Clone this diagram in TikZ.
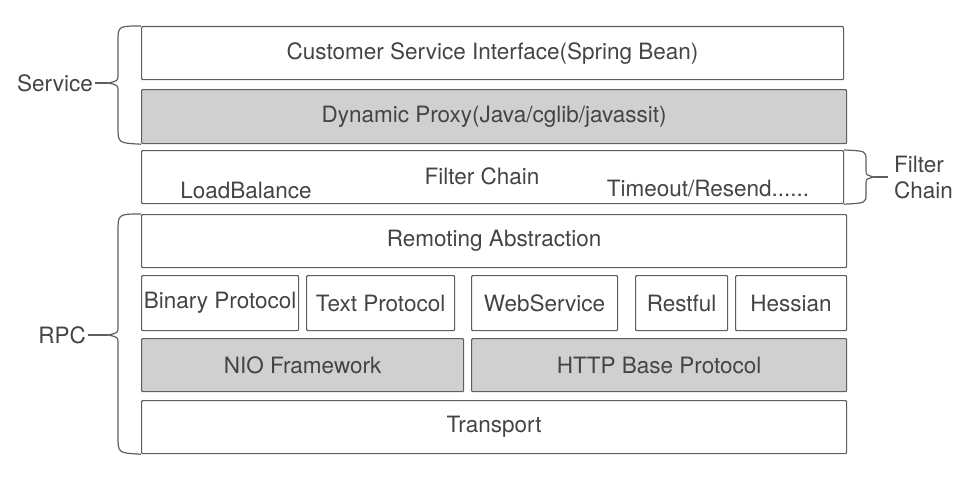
\documentclass[tikz,border=0pt]{standalone}
\usepackage{fontspec}
\setmainfont{TeX Gyre Heros}
\definecolor{linegray}{HTML}{5E5E5E}
\definecolor{textgray}{HTML}{444444}
\definecolor{fillgray}{HTML}{D0D0D0}

\begin{document}
\begin{tikzpicture}[x=1pt,y=-1pt,font=\fontsize{22.5}{26}\selectfont]
\tikzstyle{layer} = [rectangle, draw=linegray, line width=1.2pt, text=textgray,
anchor=north west, inner sep=0pt, minimum height=53pt, rounded corners=1pt]
\tikzstyle{shaded} = [layer, fill=fillgray]
\tikzstyle{side} = [text=textgray, inner sep=2pt]
\tikzstyle{brace} = [draw=linegray, line width=1.2pt]

\useasboundingbox (0,0) rectangle (958,487);

% service layers
\node [layer, minimum width=702pt] (csi) at (141,26) {Customer Service Interface(Spring Bean)};
\node [shaded, minimum width=705pt, minimum height=54pt] (proxy) at (141,89) {Dynamic Proxy(Java/cglib/javassit)};
% filter chain
\node [layer, minimum width=702pt] (filter) at (141,150) {};
\node [side] (chain) at (482,176) {Filter Chain};
\node [side] (lb) at (246,190) {LoadBalance};
\node [side] (timeout) at (708,189) {Timeout/Resend......};
% rpc layers
\node [layer, minimum width=705pt] (remoting) at (141,214) {Remoting Abstraction};
\node [layer, minimum width=157pt, minimum height=55pt] (binary) at (141,275) {Binary Protocol};
\node [layer, minimum width=148pt, minimum height=55pt] (text) at (306,275) {Text Protocol};
\node [layer, minimum width=146pt, minimum height=55pt] (ws) at (471,275) {WebService};
\node [layer, minimum width=92pt, minimum height=55pt] (rest) at (635,275) {Restful};
\node [layer, minimum width=111pt, minimum height=55pt] (hessian) at (735,275) {Hessian};
\node [shaded, minimum width=322pt] (nio) at (141,338) {NIO Framework};
\node [shaded, minimum width=375pt] (http) at (471,338) {HTTP Base Protocol};
\node [layer, minimum width=705pt] (transport) at (141,400) {Transport};

% braces
\coordinate (svctip) at (108,83);
\coordinate (rpctip) at (108,335);
\coordinate (fctip) at (888,177);
\node [side, anchor=east] (service) at (95,83) {Service};
\node [side, anchor=east] (rpc) at (88,335) {RPC};
\node [side, anchor=west, align=left] (fclabel) at (892,177) {Filter\\Chain};

\draw [brace] (csi.north west) .. controls (118,26) .. (118,42) -- (118,74)
  .. controls (118,81) .. (svctip) .. controls (118,85) .. (118,92) -- (118,127)
  .. controls (118,143) .. (proxy.south west);
\draw [brace] (service) -- (svctip);
\draw [brace] (remoting.north west) .. controls (118,214) .. (118,232) -- (118,326)
  .. controls (118,333) .. (rpctip) .. controls (118,337) .. (118,344) -- (118,436)
  .. controls (118,453) .. (transport.south west);
\draw [brace] (rpc) -- (rpctip);
\draw [brace] (filter.north east) .. controls (866,151) .. (866,160) -- (866,170)
  .. controls (866,175) .. (874,177) .. controls (866,179) .. (866,184) -- (866,194)
  .. controls (866,203) .. (filter.south east);
\draw [brace] (874,177) -- (fctip);
\end{tikzpicture}
\end{document}
